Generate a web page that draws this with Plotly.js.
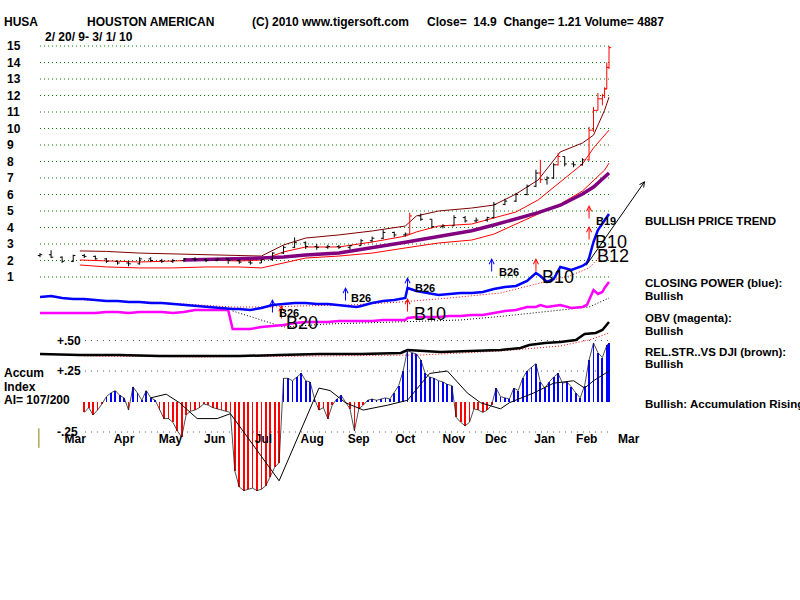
<!DOCTYPE html>
<html><head><meta charset="utf-8">
<script src="https://cdn.plot.ly/plotly-3.0.1.min.js"></script>
<style>html,body{margin:0;padding:0;background:#fff}#chart{width:800px;height:600px}</style>
</head><body><div id="chart"></div>
<script>
// ---------- DATA (x = trading-day index from 2/20/09) ----------
const priceDay = [0,5,10,15,20,25,30,35,40,45,50,55,60,65,70,75,80,85,90,95,100,105,110,115,120,125,130,135,140,145,150,155,160,165,167,172,177,182,187,192,197,202,205,210,215,220,224,226,229,232,234,237,241,245,248,250,252,254,255,256,257];
const priceOpen = [2.30,2.35,2.20,1.95,2.30,2.25,2.10,1.95,1.85,1.80,2.10,2.00,1.95,2.00,2.10,2.05,2.00,2.10,2.00,1.90,1.85,2.05,2.45,2.80,3.10,2.85,2.80,2.85,2.80,2.90,3.20,3.35,3.70,3.55,3.60,4.70,4.50,4.05,4.10,4.60,4.40,4.45,4.60,5.40,5.60,6.00,6.50,7.30,6.90,7.00,7.80,8.30,7.85,7.80,8.10,9.90,11.10,11.80,12.00,12.40,13.70];
const priceHigh = [2.45,2.62,2.25,2.35,2.40,2.30,2.15,2.00,1.95,2.20,2.20,2.10,2.10,2.15,2.20,2.15,2.15,2.15,2.05,2.00,2.10,2.50,2.90,3.40,3.15,3.00,2.95,2.95,2.95,3.30,3.45,3.85,3.75,3.70,4.90,4.85,4.50,4.20,4.75,4.70,4.60,4.65,5.55,5.75,6.10,6.60,7.50,8.10,7.10,7.90,8.50,8.30,8.00,8.20,10.10,11.30,12.15,12.10,12.50,14.00,15.00];
const priceLow = [2.20,2.15,1.85,1.90,2.15,2.05,1.85,1.75,1.65,1.75,1.90,1.85,1.85,1.90,1.95,1.90,1.95,1.80,1.80,1.75,1.85,2.00,2.40,2.75,2.70,2.65,2.70,2.70,2.65,2.90,3.10,3.30,3.40,3.45,3.60,4.40,3.95,3.95,4.10,4.30,4.30,4.35,4.55,5.35,5.55,5.95,6.45,6.70,6.60,6.95,7.75,7.70,7.65,7.75,8.05,9.80,11.10,11.40,11.85,12.40,13.60];
const priceClose = [2.35,2.20,1.95,2.30,2.25,2.10,1.95,1.85,1.80,2.10,2.00,1.95,2.00,2.10,2.05,2.00,2.10,2.00,1.90,1.85,2.05,2.45,2.80,3.10,2.85,2.80,2.85,2.80,2.90,3.20,3.35,3.70,3.55,3.60,4.70,4.50,4.05,4.10,4.60,4.40,4.45,4.60,5.40,5.60,6.00,6.50,7.30,6.90,7.00,7.80,8.30,7.85,7.80,8.10,9.90,11.10,11.80,12.00,12.40,13.70,14.90];
const bigUpDays = [167,226,234,248,250,252,254,255,256,257];

const bandDay   = [18,30,45,60,75,90,100,110,120,135,150,165,170,180,195,205,215,225,235,245,250,255,257];
const bandUpper = [2.58,2.55,2.45,2.39,2.33,2.27,2.27,2.94,3.36,3.55,3.79,4.09,4.70,5.00,5.18,5.36,6.03,6.88,8.58,9.12,9.60,11.10,11.90];
const bandMid   = [2.03,1.97,1.91,1.97,2.03,1.97,2.03,2.52,2.82,2.82,3.12,3.48,3.73,4.09,4.21,4.58,4.94,5.67,6.76,7.85,8.82,9.60,9.90];
const bandLower = [1.73,1.61,1.55,1.55,1.61,1.61,1.55,1.85,2.15,2.27,2.45,2.76,2.85,3.06,3.24,3.60,4.21,4.82,5.42,6.21,6.82,7.48,7.90];
const maDay = [65,75,90,100,110,120,135,150,165,180,195,205,215,225,235,245,250,255,257];
const maPrice = [2.03,2.06,2.09,2.15,2.21,2.33,2.45,2.75,3.10,3.45,3.80,4.15,4.50,4.90,5.35,6.03,6.45,7.06,7.30];

const lineDay = [0,5,10,15,20,25,30,35,40,45,50,55,60,65,70,75,80,85,87,90,95,100,105,110,115,120,125,130,135,140,143,145,150,155,160,165,166,170,175,180,185,190,195,200,205,210,215,220,224,226,229,232,235,240,245,247,248,250,252,254,255,257];
const closingPower = [43,44,42,41,41,40,39,39,38,38,37,37,36,35,34,33,32,31,31,31,30,32,35,36,37,37,36,36,35,34,33,34,37,39,40,42,52,49,47,45,46,47,47,48,51,53,54,59,67,64,58,61,73,70,74,77,82,98,110,116,120,126];
const obv = [27,27,27,27,27,27,28,28,27,28,28,28,27,28,30,30,30,30,11,11,11,13,14,15,17,18,18,18,19,19,19,19,19,20,20,20,22,23,23,23,24,24,25,25,27,29,30,33,33,35,33,34,35,32,33,35,40,50,46,48,52,58];
const cpMaDay = [20,50,72,87,104,117,140,163,185,208,226,239,248,257];
const cpMa = [40,38,35,33,33,34,35,38,42,47,57,64,72,93];
const obvMaDay = [87,110,130,160,190,210,230,248,257];
const obvMa = [29,13,16,18,20,24,29,33,42];

const relDay = [0,18,36,54,72,90,108,126,145,163,166,172,181,194,208,217,221,228,235,242,246,251,254,257];
const relStr = [46,45,45,44,44,44,45,46,46,47,50,49,48,49,50,52,55,57,58,60,66,67,70,78];
const relMaDay = [20,72,126,172,208,235,248,257];
const relMa = [44,43,44,45,49,54,60,67];

const accumStart = 20;   // first trading day of the accumulation histogram, every 2nd day, last day 257
const accumIndex = [
 -0.09,-0.05,-0.11,-0.07,-0.02,0.04,0.07,0.09,0.05,0.03,
 -0.07,0.12,0.07,0.01,0.09,0.03,0.01,-0.07,-0.14,-0.14,
 -0.17,-0.24,-0.29,-0.11,-0.08,-0.07,-0.05,-0.02,-0.03,-0.05,
 -0.06,-0.07,-0.08,-0.09,-0.57,-0.70,-0.73,-0.72,-0.71,-0.73,
 -0.72,-0.69,-0.62,-0.54,-0.50,0.19,0.19,0.17,0.20,0.23,
 0.17,0.16,0.02,-0.07,-0.05,-0.14,-0.03,0.02,0.05,-0.01,
 -0.06,-0.24,-0.06,-0.03,0.01,0.02,0.01,0.02,0.03,0.02,
 0.07,0.13,0.25,0.42,0.40,0.39,0.34,0.23,0.20,0.19,
 0.17,0.16,0.14,0.13,-0.13,-0.17,-0.20,-0.17,-0.06,-0.07,
 -0.09,-0.07,-0.03,0.11,0.04,0.03,0.02,0.11,0.09,0.19,
 0.25,0.28,0.31,0.16,0.11,0.16,0.20,0.23,0.15,0.16,
 0.12,0.07,0.03,0.13,0.34,0.48,0.40,0.36,0.46,0.48];
const accumMaDay = [50,57,63,71,80,86,108,124,126,131,138,146,157,166,176,184,193,199,208,212,223,232,241,246,250,257];
const accumMa = [0.03,0.06,-0.01,-0.14,-0.14,-0.10,-0.65,0.02,0.11,0.09,-0.01,-0.07,-0.03,0.01,0.23,0.25,0.07,-0.01,-0.06,-0.01,0.07,0.15,0.17,0.11,0.17,0.25];

const priceTicks = [1,2,3,4,5,6,7,8,9,10,11,12,13,14,15];
const accumTicks = [0.5,0.25,-0.25];
const accumTickText = ['+.50','+.25','-.25'];
const monthStart = [6,28,49,69,91,113,134,155,177,196,218,237,256];
const monthLabels = ['Mar','Apr','May','Jun','Jul','Aug','Sep','Oct','Nov','Dec','Jan','Feb','Mar'];

// signals: arrows on the closing-power panel
const sigDay   = [105,109,138,166,166,204,224,248,248];
const sigLevel = [41,35,53,63,42,82,82,135,114];
const sigColor = ['#0000ff','#ff0000','#0000ff','#0000ff','#ff0000','#0000ff','#ff0000','#ff0000','#ff0000'];
const sigText  = ['B26','B20','B26','B26','B10','B26','B10','B19','B10','B12'];
const sigTextDay = [112.5,118.3,145,173.9,176.2,211.8,234,255.6,257.9,258.8];
const sigTextLevel = [27,17,42,52,26,68,63,119,98,84];
const sigTextBig = [false,true,false,false,true,false,true,false,true,true];

// ---------- LAYOUT GEOMETRY ----------
const W = 800, H = 600, X0 = 40, PXDAY = 2.214;
const xRange = [(0 - X0) / PXDAY, (W - X0) / PXDAY];
function yr(v1, y1, v2, y2) { const b = (v2 - v1) / (y2 - y1); const a = v1 - b * y1; return [a + b * H, a]; }
const FONT = 'Liberation Sans, Arial, sans-serif';

// price bars as line paths
function barPath(flagRed) {
  const xs = [], ys = [];
  priceDay.forEach((d, k) => {
    const red = bigUpDays.includes(d);
    if (red !== flagRed) return;
    xs.push(d, d, null, d - 1, d, null, d, d + 1, null);
    ys.push(priceLow[k], priceHigh[k], null, priceOpen[k], priceOpen[k], null, priceClose[k], priceClose[k], null);
  });
  return {xs, ys};
}
const blackBars = barPath(false), redBars = barPath(true);
const accumDay = accumIndex.map((_, k) => k === accumIndex.length - 1 ? 257 : accumStart + 2 * k);

const traces = [
  {x: bandDay, y: bandUpper, mode: 'lines', line: {color: '#800000', width: 1}},
  {x: bandDay, y: bandMid, mode: 'lines', line: {color: '#ff0000', width: 1}},
  {x: bandDay, y: bandLower, mode: 'lines', line: {color: '#ff0000', width: 1}},
  {x: maDay, y: maPrice, mode: 'lines', line: {color: '#800080', width: 3.5}},
  {x: blackBars.xs, y: blackBars.ys, mode: 'lines', line: {color: '#000000', width: 1}, connectgaps: false},
  {x: redBars.xs, y: redBars.ys, mode: 'lines', line: {color: '#ff0000', width: 1}, connectgaps: false},
  {x: cpMaDay, y: cpMa, yaxis: 'y2', mode: 'lines', line: {color: '#ff0000', width: 1, dash: '1px,2px'}},
  {x: obvMaDay, y: obvMa, yaxis: 'y2', mode: 'lines', line: {color: '#000000', width: 1, dash: '1px,2px'}},
  {x: lineDay, y: obv, yaxis: 'y2', mode: 'lines', line: {color: '#ff00ff', width: 2.5}},
  {x: lineDay, y: closingPower, yaxis: 'y2', mode: 'lines', line: {color: '#0000ff', width: 2.5}},
  {x: relMaDay, y: relMa, yaxis: 'y3', mode: 'lines', line: {color: '#ff0000', width: 1, dash: '1px,2px'}},
  {x: relDay, y: relStr, yaxis: 'y3', mode: 'lines', line: {color: '#000000', width: 2.5}},
  {type: 'bar', x: accumDay, y: accumIndex, yaxis: 'y4', width: 0.8,
   marker: {color: accumIndex.map(v => v >= 0 ? '#0000ff' : '#ff0000'), line: {width: 0}}},
  {x: accumDay, y: accumIndex, yaxis: 'y4', mode: 'lines', line: {color: '#222222', width: 0.8}},
  {x: accumMaDay, y: accumMa, yaxis: 'y4', mode: 'lines', line: {color: '#000000', width: 1}}
];

const shapes = [];
priceTicks.forEach(p => shapes.push({type: 'line', xref: 'x', yref: 'y', x0: 0, x1: 258.4, y0: p, y1: p, layer: 'below',
  line: {color: '#008000', width: 1, dash: '1px,3px'}}));
accumTicks.forEach(v => shapes.push({type: 'line', xref: 'x', yref: 'y4', x0: 20.3, x1: 258.4, y0: v, y1: v, layer: 'below',
  line: {color: '#555555', width: 1, dash: '1px,5px'}}));
shapes.push({type: 'line', xref: 'x', yref: 'y4', x0: -0.5, x1: -0.5, y0: -0.22, y1: -0.38, line: {color: '#808000', width: 1}});

const ann = [];
function txt(s, x, y, size) {
  ann.push({text: s, xref: 'paper', yref: 'paper', x: x / W, y: 1 - y / H, xanchor: 'left', yanchor: 'middle',
    showarrow: false, font: {family: FONT, size: size || 12, color: '#000'}});
}
txt('<b>HUSA</b>', 2, 22, 12);
txt('<b>HOUSTON AMERICAN</b>', 85, 22, 12);
txt('<b>(C) 2010 www.tigersoft.com</b>', 250, 22, 12);
txt('<b>Close=&nbsp; 14.9&nbsp; Change= 1.21 Volume= 4887</b>', 425, 22, 12);
txt('<b>2/ 20/ 9- 3/ 1/ 10</b>', 43, 37, 12);
txt('<b>BULLISH PRICE TREND</b>', 643, 221, 11.5);
txt('<b>CLOSING POWER (blue):</b>', 643, 283, 11.5);
txt('<b>Bullish</b>', 643, 296, 11.5);
txt('<b>OBV (magenta):</b>', 643, 318, 11.5);
txt('<b>Bullish</b>', 643, 331, 11.5);
txt('<b>REL.STR..VS DJI (brown):</b>', 643, 352, 11.5);
txt('<b>Bullish</b>', 643, 364, 11.5);
txt('<b>Bullish: Accumulation Rising</b>', 643, 404, 11.5);
txt('<b>Accum</b>', 2, 373, 12);
txt('<b>Index</b>', 2, 387, 12);
txt('<b>AI= 107/200</b>', 2, 400, 12);

priceTicks.forEach(p => ann.push({text: '<b>' + p + '</b>', xref: 'paper', yref: 'y', x: 5 / W, y: p, xanchor: 'left', yanchor: 'middle',
  showarrow: false, font: {family: FONT, size: 12, color: '#000'}}));
accumTicks.forEach((v, k) => ann.push({text: '<b>' + accumTickText[k] + '</b>', xref: 'paper', yref: 'y4', x: 55 / W, y: v,
  xanchor: 'left', yanchor: 'middle', showarrow: false, font: {family: FONT, size: 12, color: '#000'}}));

sigDay.forEach((d, k) => ann.push({text: '', xref: 'x', yref: 'y2', x: d, y: sigLevel[k], ax: 0, ay: 15,
  showarrow: true, arrowhead: 5, arrowsize: 1, arrowwidth: 1, arrowcolor: sigColor[k], standoff: 0, startstandoff: 0}));
sigText.forEach((s, k) => ann.push({text: sigTextBig[k] ? s : '<b>' + s + '</b>', xref: 'x', yref: 'y2', x: sigTextDay[k], y: sigTextLevel[k],
  xanchor: 'center', yanchor: 'middle', showarrow: false,
  font: {family: FONT, size: sigTextBig[k] ? 18 : 11, color: '#000'}}));
// trend arrow
ann.push({text: '', xref: 'x', yref: 'y', x: 273.3, y: 6.82, ax: -60, ay: 86, showarrow: true, arrowhead: 5,
  arrowsize: 1, arrowwidth: 1, arrowcolor: '#000', standoff: 0, startstandoff: 0});

const layout = {
  width: W, height: H, margin: {l: 0, r: 0, t: 0, b: 0, pad: 0},
  paper_bgcolor: '#fff', plot_bgcolor: '#fff', showlegend: false, bargap: 0,
  xaxis: {range: xRange, domain: [0, 1], anchor: 'free', position: 1 - 430 / H, tickmode: 'array', tickvals: monthStart,
    ticktext: monthLabels, ticklabelshift: 22, ticks: '', showgrid: false, zeroline: false, showline: false,
    tickfont: {family: FONT, size: 12, color: '#000', weight: 'bold'}},
  yaxis: {range: yr(1, 277, 15, 46), visible: false, showgrid: false, zeroline: false},
  yaxis2: {range: yr(0, 340, 100, 240), overlaying: 'y', visible: false, showgrid: false, zeroline: false},
  yaxis3: {range: yr(0, 400, 100, 300), overlaying: 'y', visible: false, showgrid: false, zeroline: false},
  yaxis4: {range: yr(0, 401.5, 0.5, 340.5), overlaying: 'y', visible: false, showgrid: false, zeroline: false},
  shapes: shapes, annotations: ann
};
traces.forEach(t => { if (!t.type) t.type = 'scatter'; t.hoverinfo = 'skip'; });
Plotly.newPlot('chart', traces, layout, {staticPlot: true, displayModeBar: false});
</script></body></html>
